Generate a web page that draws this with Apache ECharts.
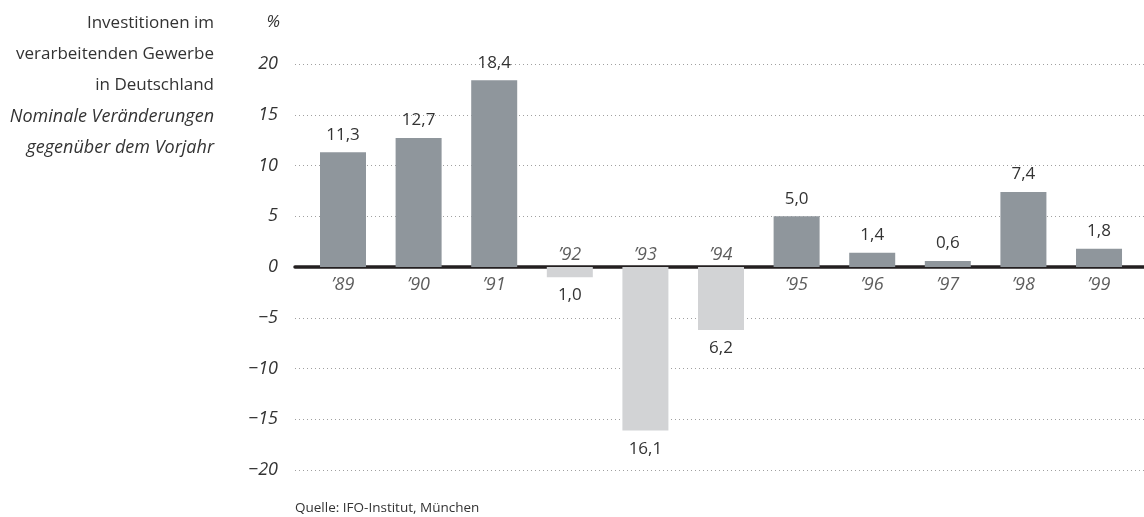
<!DOCTYPE html>
<html>
<head>
<meta charset="utf-8">
<script src="https://cdn.jsdelivr.net/npm/echarts@6/dist/echarts.min.js"></script>
<style>
  html, body { margin: 0; padding: 0; background: #fff; }
  #chart { width: 1144px; height: 517px; }
</style>
</head>
<body>
<div id="chart"></div>
<script>
// ---- Data ----
const categories = ['\u201989', '\u201990', '\u201991', '\u201992', '\u201993', '\u201994', '\u201995', '\u201996', '\u201997', '\u201998', '\u201999'];
const values = [11.3, 12.7, 18.4, -1.0, -16.1, -6.2, 5.0, 1.4, 0.6, 7.4, 1.8];
const yTicks = [-20, -15, -10, -5, 0, 5, 10, 15, 20];
const titleLines = ['Investitionen im', 'verarbeitenden Gewerbe', 'in Deutschland'];
const subtitleLines = ['Nominale Veränderungen', 'gegenüber dem Vorjahr'];
const sourceText = 'Quelle: IFO-Institut, München';
const unitText = '%';

const FONT = '"Open Sans", "Noto Sans", sans-serif';
const TEXT = '#333333';
const POS = '#8f969c';
const NEG = '#d2d3d5';

const fmt = v => Math.abs(v).toFixed(1).replace('.', ',');

const barData = values.map((v, i) => ({
  value: [i, v],
  itemStyle: { color: v >= 0 ? POS : NEG },
  label: { position: v >= 0 ? 'top' : 'bottom', distance: v >= 0 ? 9 : 10 }
}));

const yearData = values.map((v, i) => ({
  value: [i, 0],
  label: { position: v >= 0 ? 'bottom' : 'top', distance: v >= 0 ? 9 : 3, formatter: categories[i] }
}));

const chart = echarts.init(document.getElementById('chart'), null, { renderer: 'canvas' });

const titleText = titleLines.map(t => '{n|' + t + '}').concat(subtitleLines.map(t => '{i|' + t + '}')).join('\n');

chart.setOption({
  animation: false,
  backgroundColor: '#ffffff',
  title: [
    {
      text: titleText,
      right: 930,
      top: 8,
      padding: 0,
      textStyle: {
        fontWeight: 'normal',
        rich: {
          n: { fontFamily: FONT, fontSize: 17, fontWeight: 'normal', color: TEXT, lineHeight: 31, align: 'right' },
          i: { fontFamily: FONT, fontSize: 18, fontWeight: 'normal', color: TEXT, lineHeight: 31, fontStyle: 'italic', align: 'right' }
        }
      }
    },
    {
      text: unitText,
      right: 864,
      top: 14,
      padding: 0,
      textStyle: { fontFamily: FONT, fontSize: 17, color: TEXT, fontStyle: 'italic', fontWeight: 'normal' }
    },
    {
      text: sourceText,
      left: 295,
      top: 501,
      padding: 0,
      textStyle: { fontFamily: FONT, fontSize: 13.5, color: TEXT, fontWeight: 'normal' }
    }
  ],
  grid: { left: 295, right: 0, top: 64, bottom: 47, containLabel: false },
  xAxis: {
    type: 'value',
    min: -0.635,
    max: 10.595,
    axisLine: { show: true, onZero: true, lineStyle: { color: '#231f20', width: 3.5 } },
    axisTick: { show: false },
    axisLabel: { show: false },
    splitLine: { show: false }
  },
  yAxis: {
    type: 'value',
    min: yTicks[0],
    max: yTicks[yTicks.length - 1],
    interval: 5,
    axisLine: { show: false },
    axisTick: { show: false },
    axisLabel: {
      margin: 17,
      fontFamily: FONT,
      fontSize: 18,
      fontStyle: 'italic',
      color: TEXT,
      formatter: v => (v < 0 ? '\u2212' + Math.abs(v) : String(v))
    },
    splitLine: { show: true, lineStyle: { color: '#a0a0a0', type: [1, 3], width: 1 } }
  },
  series: [
    {
      type: 'bar',
      data: barData,
      barWidth: 46,
      z: 2,
      label: {
        show: true,
        fontFamily: FONT,
        fontSize: 17,
        color: TEXT,
        formatter: p => fmt(p.value[1])
      }
    },
    {
      type: 'scatter',
      data: yearData,
      symbolSize: 0,
      itemStyle: { color: 'transparent' },
      silent: true,
      z: 3,
      label: {
        show: true,
        fontFamily: FONT,
        fontSize: 18,
        fontStyle: 'italic',
        color: TEXT
      }
    }
  ]
});
</script>
</body>
</html>
